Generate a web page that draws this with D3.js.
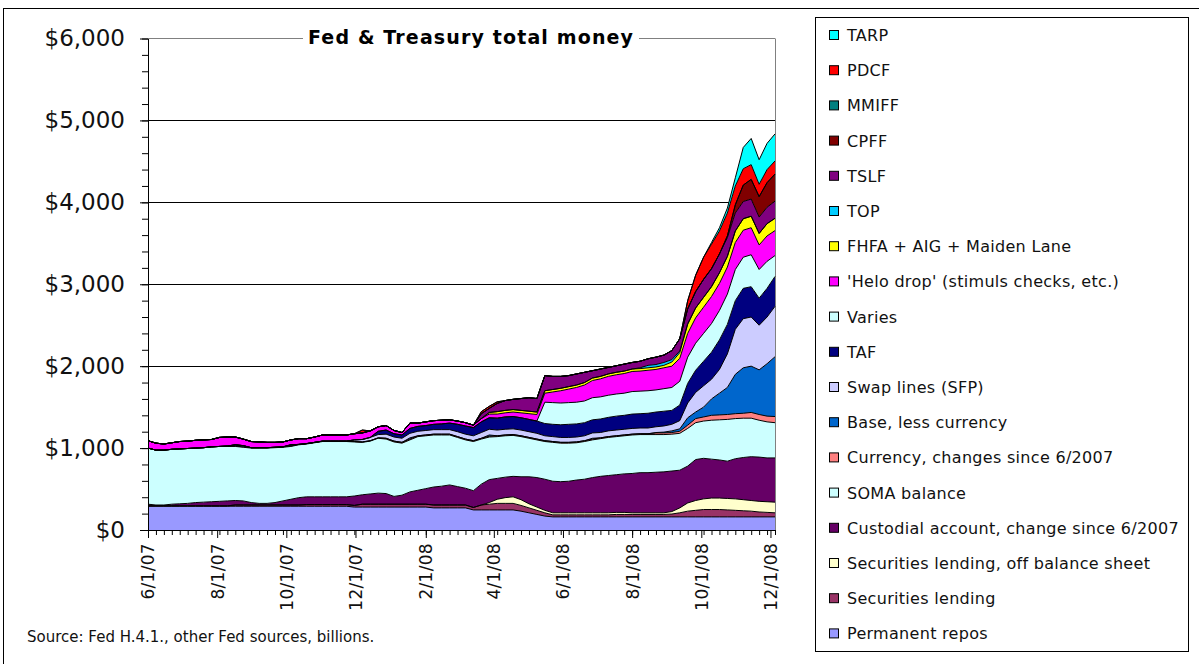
<!DOCTYPE html>
<html>
<head>
<meta charset="utf-8">
<script src="https://cdn.jsdelivr.net/npm/d3@7"></script>
<style>
  body { margin: 0; background: #fff; }
  svg { display: block; font-family: "DejaVu Sans", sans-serif; }
</style>
</head>
<body>
<script>
// weekly data, billions of $, first point 6/1/07
var firstWeek = "6/1/07";
var weekCount = 80;
var tickLabels = ["6/1/07", "8/1/07", "10/1/07", "12/1/07", "2/1/08", "4/1/08", "6/1/08", "8/1/08", "10/1/08", "12/1/08"];
var yTicks = [0, 1000, 2000, 3000, 4000, 5000, 6000];

var repos = [
  290,290,290,290,290,290,290,290,290,290,
  290,290,290,290,290,290,290,290,290,290,
  290,290,290,290,290,290,280,280,280,280,
  280,280,280,280,280,280,270,270,270,270,
  270,245,245,245,245,245,245,230,210,190,
  170,160,160,160,160,160,160,160,160,160,
  160,160,160,160,160,160,160,160,160,160,
  160,160,160,160,160,160,160,160,160,160];
var secLending = [
  5,5,5,5,5,5,5,5,5,5,
  5,15,15,15,15,15,15,15,15,15,
  20,20,20,20,20,20,20,35,35,35,
  35,35,35,35,35,35,35,35,35,35,
  35,30,60,70,80,80,80,70,60,50,
  40,25,25,25,25,25,25,25,25,30,
  30,30,30,30,30,30,35,50,70,80,
  90,90,90,85,80,75,70,60,55,50];
var secLendingOff = [
  0,0,0,0,0,0,0,0,0,0,
  0,0,0,0,0,0,0,0,0,0,
  0,0,0,0,0,0,0,0,0,0,
  0,0,0,0,0,0,0,0,0,0,
  0,0,0,20,50,70,80,70,50,40,
  30,25,25,25,25,25,25,25,25,25,
  25,20,20,20,20,20,30,60,100,120,
  130,140,140,140,140,135,130,130,130,130];
var custodial = [
  20,10,10,20,25,30,40,45,50,55,
  60,55,50,30,20,20,30,50,70,90,
  95,95,95,95,95,95,115,115,125,135,
  130,95,110,150,170,190,220,230,245,225,
  205,205,255,280,255,250,250,280,330,360,
  380,385,380,385,400,410,430,445,455,460,
  470,480,490,490,495,500,495,460,450,500,
  495,475,465,455,490,515,535,540,535,540];
var soma = [
  685,670,670,670,670,670,665,665,670,670,
  665,660,655,665,675,675,670,655,645,645,
  645,660,675,675,675,675,660,640,645,670,
  665,665,635,635,655,645,635,625,610,600,
  590,600,550,520,510,505,500,490,470,460,
  460,475,470,465,455,460,460,460,465,465,
  465,470,465,465,460,455,450,450,460,450,
  455,475,490,510,490,480,470,450,440,430];
var currency = [
  0,0,0,0,0,0,0,0,0,0,
  5,5,5,5,5,5,5,5,5,5,
  5,5,5,5,5,5,5,5,5,5,
  10,10,10,10,10,10,10,10,10,10,
  10,10,10,10,10,10,10,10,10,10,
  10,10,10,10,10,10,10,10,10,10,
  10,10,10,10,20,20,20,25,40,50,
  50,60,60,60,60,60,70,70,70,75];
var baseLessCurrency = [
  0,0,0,0,0,0,0,0,0,0,
  0,15,15,0,0,0,0,0,15,0,
  0,0,0,0,0,0,0,0,0,0,
  0,0,0,15,0,0,0,0,0,0,
  0,0,0,15,0,0,0,0,0,0,
  0,0,0,0,0,0,10,0,0,0,
  0,0,0,0,5,10,20,30,90,80,
  120,200,265,330,480,555,565,545,640,730];
var swapLines = [
  0,0,0,0,0,0,0,0,0,0,
  0,0,0,0,0,0,0,0,0,0,
  0,0,0,0,0,0,20,30,40,40,
  50,50,50,55,55,55,55,55,55,60,
  60,60,70,70,70,70,70,70,70,70,
  60,60,60,60,60,60,65,65,70,70,
  70,70,70,70,70,75,80,100,180,240,
  260,240,290,410,550,600,600,545,570,615];
var taf = [
  0,0,0,0,0,0,0,0,0,0,
  0,0,0,0,0,0,0,0,0,0,
  0,0,0,0,0,0,0,0,0,40,
  50,40,40,60,60,60,65,70,80,90,
  100,100,130,140,145,150,150,150,150,150,
  150,150,155,160,160,160,160,165,165,170,
  170,175,175,180,180,180,170,190,240,270,
  300,330,360,360,350,370,370,330,350,365];
var varies = [
  0,0,0,0,0,0,0,0,0,0,
  0,0,0,0,0,0,0,0,0,0,
  0,0,0,0,0,0,0,0,0,0,
  0,0,0,0,0,0,0,0,0,0,
  0,0,0,0,0,0,0,0,0,0,
  260,265,265,265,265,265,270,270,270,270,
  270,275,275,275,270,275,280,290,320,330,
  340,350,360,370,380,380,390,350,330,255];
var heloDrop = [
  90,85,75,80,90,90,95,95,90,110,
  110,95,80,75,70,65,60,60,60,70,
  60,65,75,75,75,75,75,80,80,55,
  55,40,30,65,40,45,45,45,40,40,
  40,30,40,45,50,50,55,60,70,80,
  110,130,150,165,180,195,210,220,230,235,
  240,245,245,250,250,255,260,280,290,310,
  320,330,330,330,330,330,330,300,310,305];
var fhfa = [
  0,0,0,0,0,0,0,0,0,0,
  0,0,0,0,0,0,0,0,0,0,
  0,0,0,0,0,0,0,0,0,0,
  0,0,0,0,0,0,0,0,0,0,
  0,0,0,20,30,30,30,30,30,30,
  30,30,30,30,30,30,30,30,30,30,
  30,30,30,30,30,30,50,70,110,120,
  120,120,130,130,140,140,140,140,150,150];
var topProgram = [
  0,0,0,0,0,0,0,0,0,0,
  0,0,0,0,0,0,0,0,0,0,
  0,0,0,0,0,0,0,0,0,0,
  0,0,0,0,0,0,0,0,0,0,
  0,0,0,0,0,0,0,0,0,0,
  0,0,0,0,0,0,0,0,0,0,
  0,0,10,30,30,35,30,20,10,0,
  0,0,0,0,0,0,0,0,0,0];
var tslf = [
  0,0,0,0,0,0,0,0,0,0,
  0,0,0,0,0,0,0,0,0,0,
  0,0,0,0,0,0,0,0,0,0,
  0,0,0,0,0,0,0,0,0,0,
  0,0,60,50,100,120,125,145,165,165,
  185,160,145,135,135,125,90,90,80,80,
  85,80,80,80,90,90,110,150,180,200,
  220,220,230,230,220,210,210,200,200,210];
var cpff = [
  0,0,0,0,0,0,0,0,0,0,
  0,0,0,0,0,0,0,0,0,0,
  0,0,0,0,0,0,0,0,0,0,
  0,0,0,0,0,0,0,0,0,0,
  0,0,0,0,0,0,0,0,0,0,
  0,0,0,0,0,0,0,0,0,0,
  0,0,0,0,0,0,0,0,0,0,
  0,0,0,20,100,200,240,250,300,330];
var mmiff = [
  0,0,0,0,0,0,0,0,0,0,
  0,0,0,0,0,0,0,0,0,0,
  0,0,0,0,0,0,0,0,0,0,
  0,0,0,0,0,0,0,0,0,0,
  0,0,0,0,0,0,0,0,0,0,
  0,0,0,0,0,0,0,0,0,0,
  0,0,0,0,0,0,0,0,0,0,
  0,0,0,0,0,0,0,0,0,0];
var pdcf = [
  0,0,0,0,0,0,0,0,0,0,
  0,0,0,0,0,0,0,0,0,0,
  0,0,0,0,0,0,0,35,0,0,
  0,0,0,0,0,0,0,0,0,0,
  0,0,25,25,20,0,0,0,0,0,
  0,0,0,0,0,0,0,0,0,0,
  0,0,0,0,0,0,0,0,100,200,
  270,300,280,280,230,200,180,150,160,160];
var tarp = [
  0,0,0,0,0,0,0,0,0,0,
  0,0,0,0,0,0,0,0,0,0,
  0,0,0,0,0,0,0,0,0,0,
  0,0,0,0,0,0,0,0,0,0,
  0,0,0,0,0,0,0,0,0,0,
  0,0,0,0,0,0,0,0,0,0,
  0,0,0,0,0,0,0,0,0,0,
  0,20,40,60,100,260,320,300,320,330];

// stack order, bottom to top
var seriesNames = ["Permanent repos", "Securities lending", "Securities lending, off balance sheet",
  "Custodial account, change since 6/2007", "SOMA balance", "Currency, changes since 6/2007",
  "Base, less currency", "Swap lines (SFP)", "TAF", "Varies", "'Helo drop' (stimuls checks, etc.)",
  "FHFA + AIG + Maiden Lane", "TOP", "TSLF", "CPFF", "MMIFF", "PDCF", "TARP"];
var seriesValues = [repos, secLending, secLendingOff, custodial, soma, currency, baseLessCurrency,
  swapLines, taf, varies, heloDrop, fhfa, topProgram, tslf, cpff, mmiff, pdcf, tarp];
var seriesColors = ["#9999FF", "#993366", "#FFFFCC", "#660066", "#CCFFFF", "#FF8080", "#0066CC",
  "#CCCCFF", "#000080", "#CCFFFF", "#FF00FF", "#FFFF00", "#00CCFF", "#800080", "#800000",
  "#008080", "#FF0000", "#00FFFF"];

var w = 1199, h = 664;
var plotL = 148, plotR = 775, plotT = 38.5, plotB = 530;

var svg = d3.select("body").append("svg")
  .attr("width", w)
  .attr("height", h);

// outer frame
svg.append("rect")
  .attr("x", 3.5).attr("y", 8.5)
  .attr("width", w - 3).attr("height", h)
  .attr("fill", "none").attr("stroke", "#000");

var parse = d3.timeParse("%m/%d/%y");
var start = parse(firstWeek);
var dates = d3.range(weekCount).map(function(i) { return d3.timeDay.offset(start, i * 7); });

var x = d3.scaleTime().domain([dates[0], dates[weekCount - 1]]).range([plotL, plotR]);
var y = d3.scaleLinear().domain([0, 6000]).range([plotB, plotT]);

var rows = dates.map(function(d, i) {
  var r = { date: d };
  seriesNames.forEach(function(name, k) { r[name] = seriesValues[k][i]; });
  return r;
});
var stacked = d3.stack().keys(seriesNames)(rows);

// gridlines
svg.append("g").selectAll("line")
  .data(yTicks.filter(function(v) { return v > 0 && v < 6000; }))
  .enter().append("line")
  .attr("x1", plotL).attr("x2", plotR)
  .attr("y1", function(v) { return Math.round(y(v)) + 0.5; })
  .attr("y2", function(v) { return Math.round(y(v)) + 0.5; })
  .attr("stroke", "#000");

svg.append("line")
  .attr("x1", plotL).attr("x2", plotR)
  .attr("y1", plotT).attr("y2", plotT)
  .attr("stroke", "#808080");
svg.append("line")
  .attr("x1", plotR + 0.5).attr("x2", plotR + 0.5)
  .attr("y1", plotT).attr("y2", plotB)
  .attr("stroke", "#808080");

var area = d3.area()
  .x(function(d) { return x(d.data.date); })
  .y0(function(d) { return y(d[0]); })
  .y1(function(d) { return y(d[1]); });
var edge = d3.line()
  .x(function(d) { return x(d.data.date); })
  .y(function(d) { return y(d[1]); });

svg.append("g").selectAll("path")
  .data(stacked)
  .enter().append("path")
  .attr("d", area)
  .attr("fill", function(d, i) { return seriesColors[i]; });

svg.append("g").selectAll("path")
  .data(stacked)
  .enter().append("path")
  .attr("d", edge)
  .attr("fill", "none")
  .attr("stroke", "#000")
  .attr("stroke-width", 1);

// y axis
var yAxis = svg.append("g")
  .attr("transform", "translate(" + plotL + ",0)")
  .call(d3.axisLeft(y).tickValues(d3.range(0, 6001, 200)).tickSize(6).tickSizeOuter(0).tickFormat(""));
yAxis.select(".domain").attr("stroke", "#000");

var yLabels = svg.append("g")
  .attr("transform", "translate(" + plotL + ",0)")
  .call(d3.axisLeft(y).tickValues(yTicks).tickSize(8).tickSizeOuter(0).tickPadding(15)
    .tickFormat(function(v) { return "$" + d3.format(",")(v); }));
yLabels.select(".domain").remove();
yLabels.selectAll("text")
  .attr("font-family", "DejaVu Sans")
  .attr("font-size", 23)
  .attr("fill", "#111");

// x axis
var xAxis = svg.append("g")
  .attr("transform", "translate(0," + plotB + ")")
  .call(d3.axisBottom(x).tickValues(dates).tickSize(5).tickSizeOuter(0).tickFormat(""));
xAxis.select(".domain").attr("stroke", "#000");

var xLabels = svg.append("g")
  .attr("transform", "translate(0," + plotB + ")")
  .call(d3.axisBottom(x).tickValues(tickLabels.map(parse)).tickSize(8).tickSizeOuter(0)
    .tickFormat(d3.timeFormat("%-m/%-d/%y")));
xLabels.select(".domain").remove();
xLabels.selectAll("text")
  .attr("transform", "rotate(-90)")
  .attr("text-anchor", "end")
  .attr("x", -13)
  .attr("y", 0)
  .attr("dy", "0.35em")
  .attr("font-family", "DejaVu Sans")
  .attr("font-size", 17)
  .attr("letter-spacing", 0.3)
  .attr("fill", "#111");

// title on the top edge
svg.append("rect")
  .attr("x", 303).attr("y", 28)
  .attr("width", 336).attr("height", 20)
  .attr("fill", "#fff");
svg.append("text")
  .attr("x", 308).attr("y", 44)
  .attr("font-family", "DejaVu Sans")
  .attr("font-weight", "bold")
  .attr("font-size", 19)
  .attr("textLength", 325)
  .attr("lengthAdjust", "spacing")
  .text("Fed & Treasury total money");

svg.append("text")
  .attr("x", 27).attr("y", 642)
  .attr("font-family", "DejaVu Sans")
  .attr("font-size", 15)
  .attr("fill", "#111")
  .text("Source: Fed H.4.1., other Fed sources, billions.");

// legend, top entry = top of the stack
var legend = svg.append("g");
legend.append("rect")
  .attr("x", 815.5).attr("y", 17.5)
  .attr("width", 373).attr("height", 634)
  .attr("fill", "#fff").attr("stroke", "#000");

var legendItems = seriesNames.map(function(name, k) { return { name: name, color: seriesColors[k] }; }).reverse();
var item = legend.selectAll("g.item")
  .data(legendItems)
  .enter().append("g")
  .attr("class", "item")
  .attr("transform", function(d, i) { return "translate(0," + (35 + i * 35.2) + ")"; });
item.append("rect")
  .attr("x", 829.5).attr("y", -4.5)
  .attr("width", 9).attr("height", 9)
  .attr("fill", function(d) { return d.color; })
  .attr("stroke", "#000");
item.append("text")
  .attr("x", 847).attr("y", 6)
  .attr("font-family", "DejaVu Sans")
  .attr("font-size", 16)
  .attr("letter-spacing", 0.3)
  .attr("fill", "#111")
  .text(function(d) { return d.name; });
</script>
</body>
</html>
